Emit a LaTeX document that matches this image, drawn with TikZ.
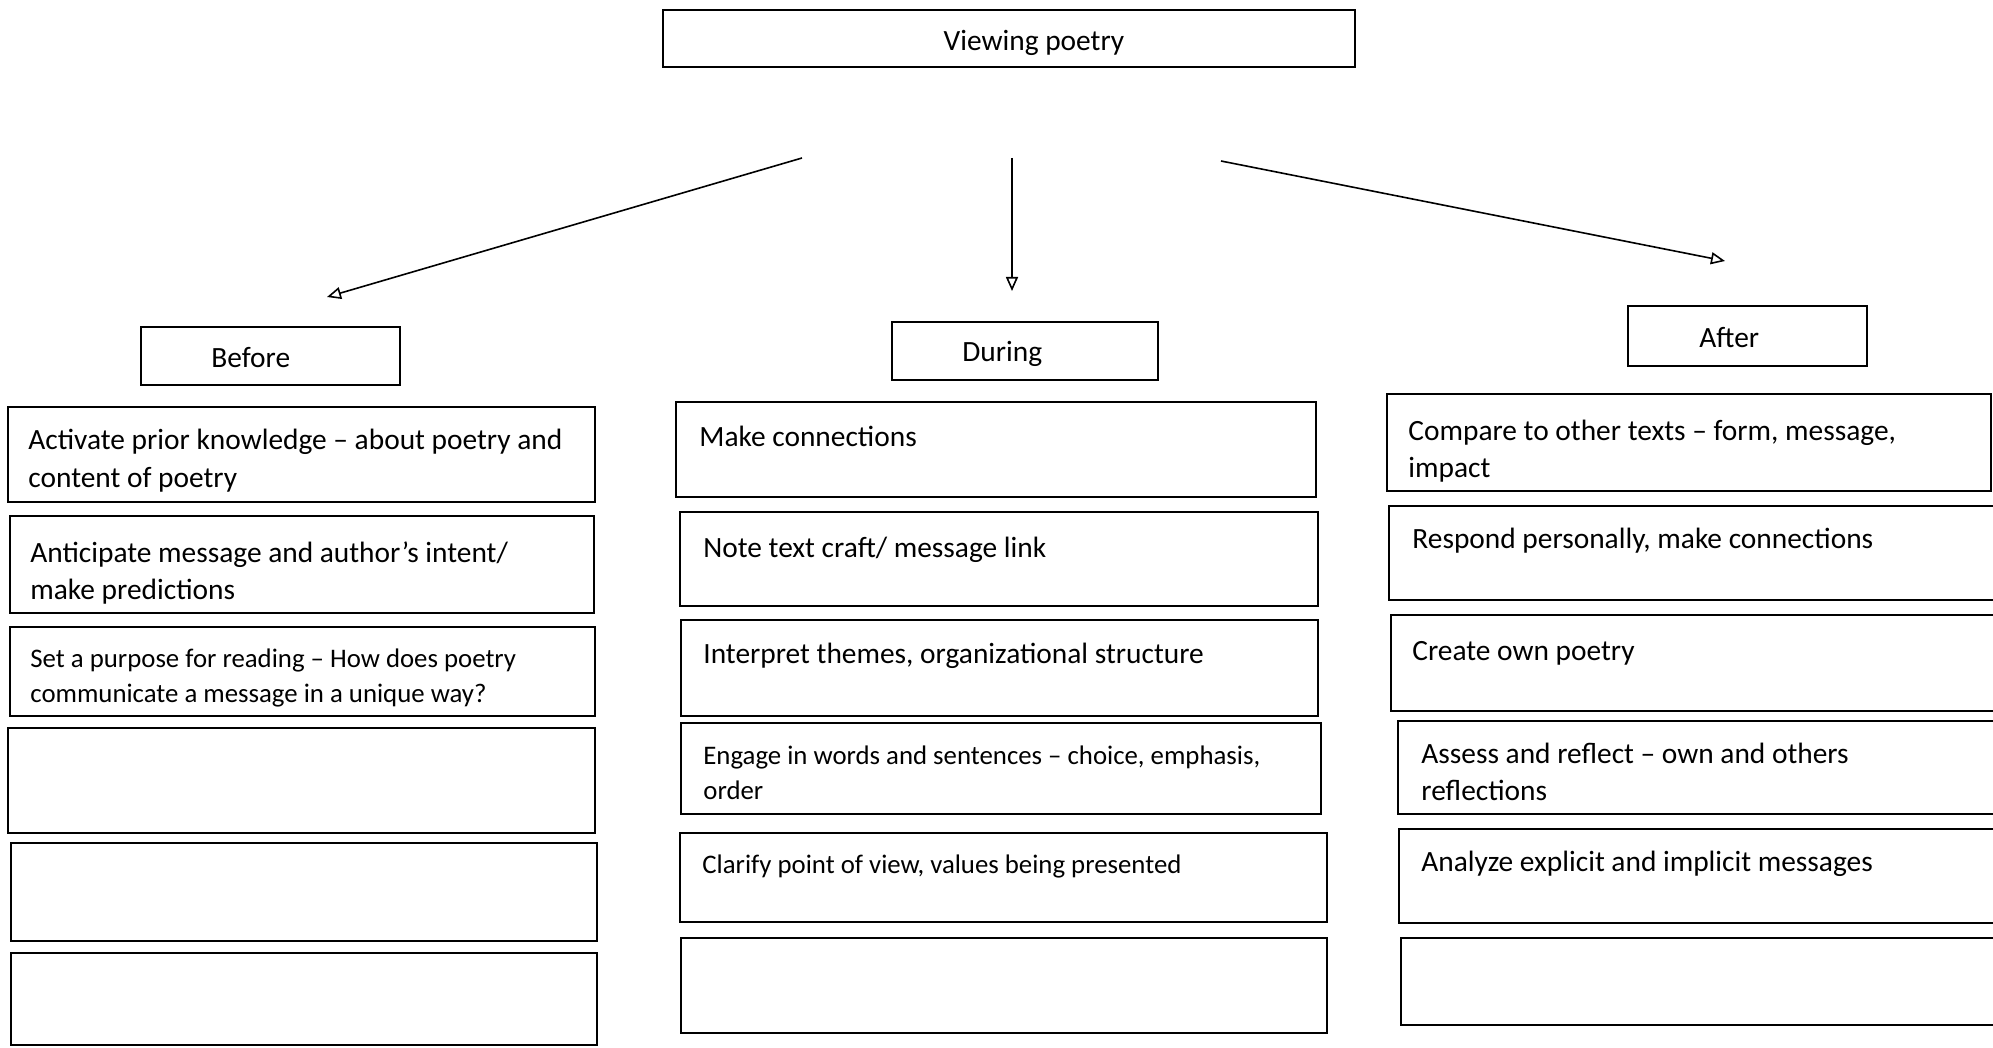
\documentclass[tikz,border=0pt]{standalone}
\usepackage{fontspec}
\setmainfont{Carlito}
\usetikzlibrary{arrows.meta,fit}
\begin{document}
\begin{tikzpicture}[x=0.5pt,y=-0.5pt,
  box/.style={draw, line width=1.3pt, inner sep=0pt},
  txt/.style={anchor=base west, align=left, inner sep=0pt, font=\fontsize{14.7}{18.5}\selectfont},
  stxt/.style={txt, font=\fontsize{13.4}{17.5}\selectfont},
  arr/.style={line width=0.8pt, -{Triangle[open,length=7pt,width=6pt]}}]
\useasboundingbox (0,0) rectangle (1993,1048);
\clip (0,0) rectangle (1993,1048);
% header boxes
\node[box, fit={(663,10)(1355,67)}] (top) {};
\node[box, fit={(141,327)(400,385)}] (before) {};
\node[box, fit={(892,322)(1158,380)}] (during) {};
\node[box, fit={(1628,306)(1867,366)}] (after) {};
\node[txt, anchor=base] (ttop) at (1034,51) {Viewing poetry};
\node[txt] (tbefore) at (211,368) {Before};
\node[txt] (tduring) at (962,362) {During};
\node[txt] (tafter) at (1699,348) {After};
% arrows
\coordinate (sL) at (802,158); \coordinate (eL) at (327,297);
\coordinate (sM) at (1012,158); \coordinate (eM) at (1012,291);
\coordinate (sR) at (1221,161); \coordinate (eR) at (1725,261);
\draw[arr] (sL) -- (eL);
\draw[arr] (sM) -- (eM);
\draw[arr] (sR) -- (eR);
% left column
\node[box, fit={(8,407)(595,502)}] (l1) {};
\node[box, fit={(10,516)(594,613)}] (l2) {};
\node[box, fit={(10,627)(595,716)}] (l3) {};
\node[box, fit={(8,728)(595,833)}] (l4) {};
\node[box, fit={(11,843)(597,941)}] (l5) {};
\node[box, fit={(11,953)(597,1045)}] (l6) {};
\node[txt] (tl1) at (28,487) {Activate prior knowledge – about poetry and\\content of poetry};
\node[txt] (tl2) at (30,599) {Anticipate message and author’s intent/\\make predictions};
\node[stxt] (tl3) at (30,702) {Set a purpose for reading – How does poetry\\communicate a message in a unique way?};
% middle column
\node[box, fit={(676,402)(1316,497)}] (m1) {};
\node[box, fit={(680,512)(1318,606)}] (m2) {};
\node[box, fit={(681,620)(1318,716)}] (m3) {};
\node[box, fit={(681,723)(1321,814)}] (m4) {};
\node[box, fit={(680,833)(1327,922)}] (m5) {};
\node[box, fit={(681,938)(1327,1033)}] (m6) {};
\node[txt] (tm1) at (699,446) {Make connections};
\node[txt] (tm2) at (703,557) {Note text craft/ message link};
\node[txt] (tm3) at (703,663) {Interpret themes, organizational structure};
\node[stxt] (tm4) at (703,799) {Engage in words and sentences – choice, emphasis,\\order};
\node[stxt] (tm5) at (702,873) {Clarify point of view, values being presented};
% right column
\node[box, fit={(1387,394)(1991,491)}] (r1) {};
\node[box, fit={(1389,506)(2005,600)}] (r2) {};
\node[box, fit={(1391,615)(2005,711)}] (r3) {};
\node[box, fit={(1398,721)(2005,814)}] (r4) {};
\node[box, fit={(1399,829)(2005,923)}] (r5) {};
\node[box, fit={(1401,938)(2005,1025)}] (r6) {};
\node[txt] (tr1) at (1408,477) {Compare to other texts – form, message,\\impact};
\node[txt] (tr2) at (1412,548) {Respond personally, make connections};
\node[txt] (tr3) at (1412,660) {Create own poetry};
\node[txt] (tr4) at (1421,800) {Assess and reflect – own and others\\reflections};
\node[txt] (tr5) at (1421,871) {Analyze explicit and implicit messages};
\end{tikzpicture}
\end{document}
